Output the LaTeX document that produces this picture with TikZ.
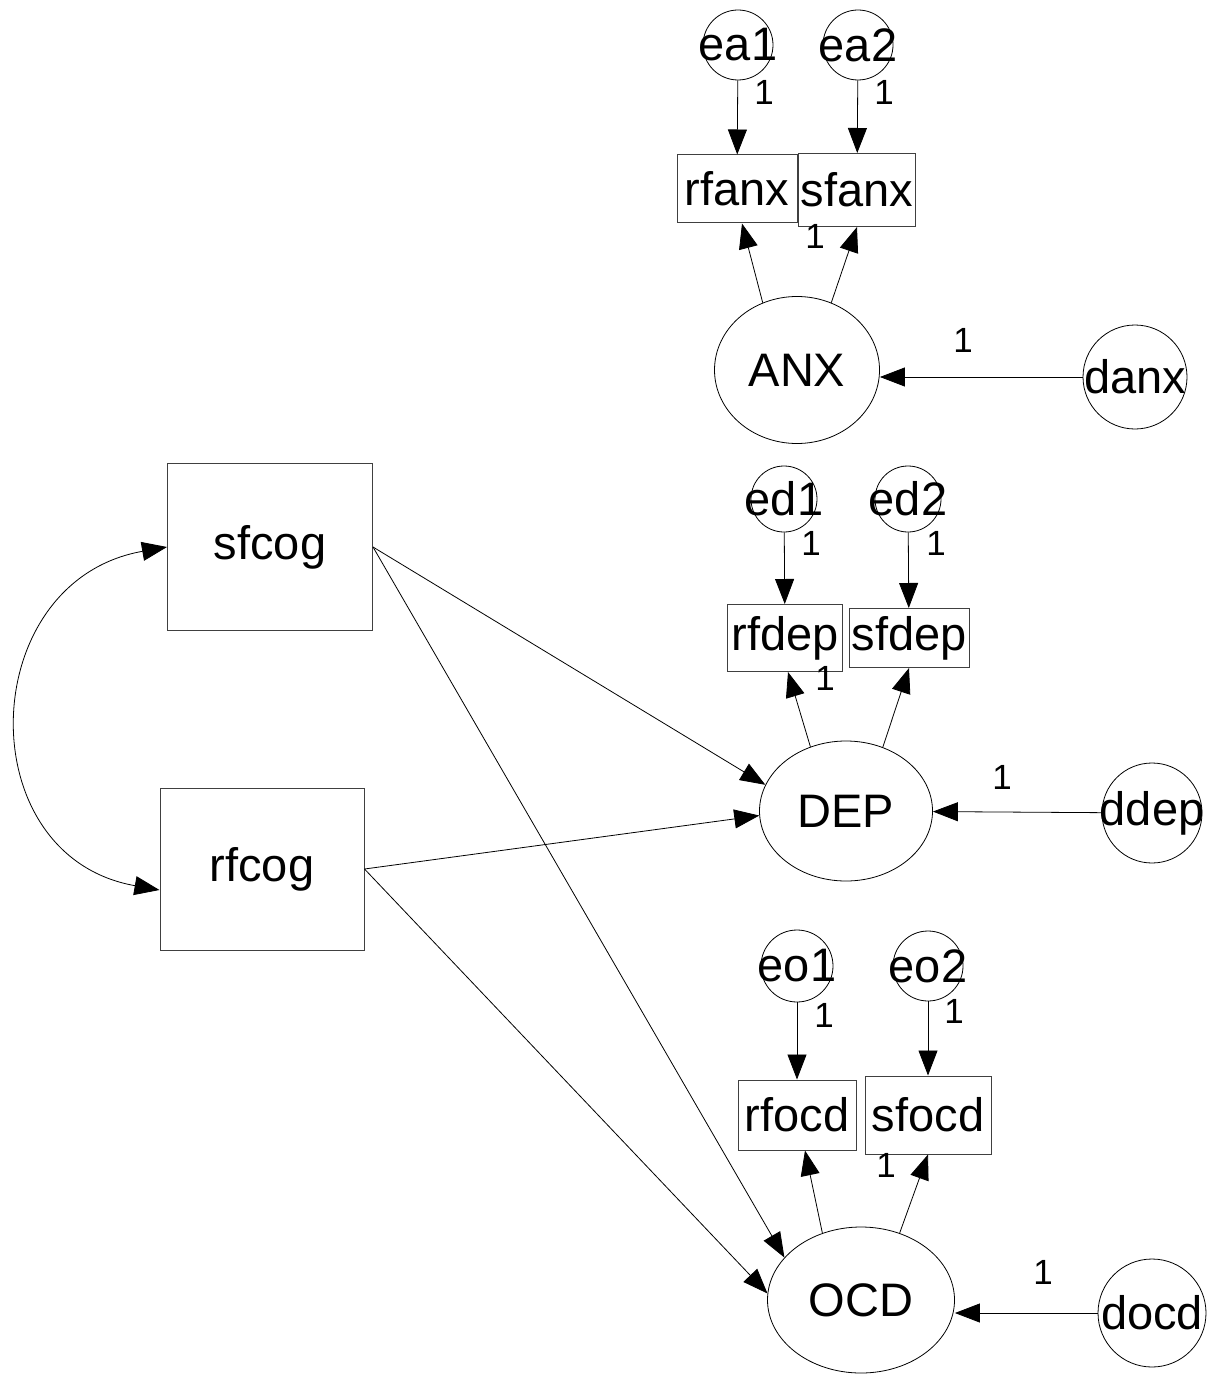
\documentclass[tikz,border=0pt]{standalone}
\usepackage{fontspec}
\setmainfont{Liberation Sans}
\usetikzlibrary{arrows.meta,shapes.geometric}

\begin{document}
\begin{tikzpicture}[
        x=1pt, y=1pt,
        observed/.style={draw=black!75, line width=1pt, rectangle, inner sep=0pt, font=\fontsize{47}{52}\selectfont},
        latent/.style={draw, line width=0.8pt, ellipse, inner sep=0pt, font=\fontsize{47}{52}\selectfont},
        resid/.style={draw, line width=0.8pt, circle, inner sep=0pt, font=\fontsize{47}{52}\selectfont},
        fixed/.style={inner sep=0pt, font=\fontsize{35}{40}\selectfont},
        effect/.style={-{Triangle[length=25pt, width=19pt]}, line width=0.8pt},
        cov/.style={{Triangle[length=25pt, width=19pt]}-{Triangle[length=25pt, width=19pt]}, line width=0.8pt}
    ]
        \useasboundingbox (0,0) rectangle (1224,-1380);

        % predictors
        \node[observed, minimum width=205pt, minimum height=167pt] (sfcog) at (270,-547) {sfcog};
        \node[observed, minimum width=204pt, minimum height=162pt] (rfcog) at (262,-869) {rfcog};

        % anxiety block
        \node[resid, minimum size=70pt] (ea1) at (738,-45) {\makebox[0pt]{ea1}};
        \node[resid, minimum size=70pt] (ea2) at (858,-45) {\makebox[0pt]{ea2}};
        \node[observed, minimum width=120pt, minimum height=68pt] (rfanx) at (737,-189) {rfanx};
        \node[observed, minimum width=117pt, minimum height=73pt] (sfanx) at (857,-190) {sfanx};
        \node[latent, minimum width=165pt, minimum height=147pt] (ANX) at (797,-370) {ANX};
        \node[resid, minimum size=104pt] (danx) at (1135,-377) {\makebox[0pt]{danx}};

        % depression block
        \node[resid, minimum size=66pt] (ed1) at (784,-499) {\makebox[0pt]{ed1}};
        \node[resid, minimum size=66pt] (ed2) at (908,-499) {\makebox[0pt]{ed2}};
        \node[observed, minimum width=115pt, minimum height=67pt] (rfdep) at (785,-638) {rfdep};
        \node[observed, minimum width=120pt, minimum height=59pt] (sfdep) at (909,-638) {sfdep};
        \node[latent, minimum width=173pt, minimum height=140pt] (DEP) at (846,-811) {DEP};
        \node[resid, minimum size=100pt] (ddep) at (1152,-813) {\makebox[0pt]{ddep}};

        % ocd block
        \node[resid, minimum size=72pt] (eo1) at (797,-966) {\makebox[0pt]{eo1}};
        \node[resid, minimum size=70pt] (eo2) at (928,-966) {\makebox[0pt]{eo2}};
        \node[observed, minimum width=118pt, minimum height=70pt] (rfocd) at (797,-1115) {rfocd};
        \node[observed, minimum width=126pt, minimum height=78pt] (sfocd) at (928,-1115) {sfocd};
        \node[latent, minimum width=187pt, minimum height=146pt] (OCD) at (861,-1300) {OCD};
        \node[resid, minimum size=108pt] (docd) at (1152,-1313) {\makebox[0pt]{docd}};

        % fixed loadings
        \node[fixed] (fa1) at (764,-92) {1};
        \node[fixed] (fa2) at (884,-92) {1};
        \node[fixed] (fa3) at (815,-236) {1};
        \node[fixed] (fa4) at (963,-340) {1};
        \node[fixed] (fd1) at (811,-543) {1};
        \node[fixed] (fd2) at (936,-543) {1};
        \node[fixed] (fd3) at (825,-678) {1};
        \node[fixed] (fd4) at (1002,-777) {1};
        \node[fixed] (fo1) at (824,-1015) {1};
        \node[fixed] (fo2) at (954,-1011) {1};
        \node[fixed] (fo3) at (886,-1165) {1};
        \node[fixed] (fo4) at (1043,-1272) {1};

        \draw[effect] (ea1) -- (rfanx);
        \draw[effect] (ea2) -- (sfanx);
        \draw[effect] (ANX.117) -- ([xshift=5pt]rfanx.south);
        \draw[effect] (ANX.63) -- (sfanx.south);
        \draw[effect] (danx) -- (ANX.east |- danx);

        \draw[effect] (ed1) -- (rfdep);
        \draw[effect] (ed2) -- (sfdep);
        \draw[effect] (DEP.119) -- ([xshift=3pt]rfdep.south);
        \draw[effect] (DEP.60) -- (sfdep.south);
        \draw[effect] (ddep) -- (DEP);

        \draw[effect] (eo1) -- (rfocd);
        \draw[effect] (eo2) -- (sfocd);
        \draw[effect] (OCD.120) -- ([xshift=8pt]rfocd.south);
        \draw[effect] (OCD.60) -- (sfocd.south);
        \draw[effect] (docd) -- (OCD.east |- docd);

        \draw[effect] (sfcog.east) -- (DEP.162);
        \draw[effect] (sfcog.east) -- (OCD.151);
        \draw[effect] (rfcog.east) -- (DEP.183);
        \draw[effect] (rfcog.east) -- (OCD.176);
        \draw[cov] (sfcog.west) to[out=190, in=170, looseness=1.45] ([yshift=-21pt]rfcog.west);
\end{tikzpicture}
\end{document}
